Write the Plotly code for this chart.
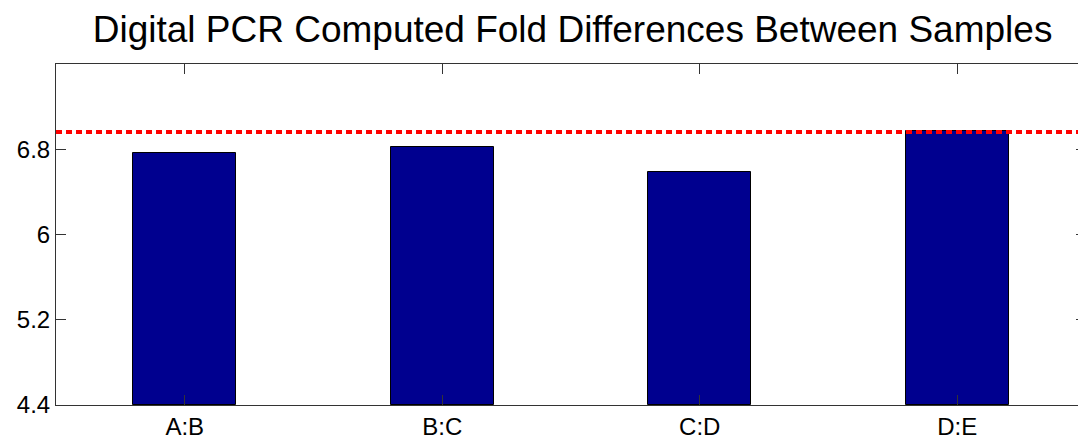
import plotly.graph_objects as go

categories = ["A:B", "B:C", "C:D", "D:E"]
fold_values = [6.762, 6.818, 6.584, 6.972]
threshold = 6.962
y_ticks = [4.4, 5.2, 6.0, 6.8]
y_tick_labels = ["4.4", "5.2", "6", "6.8"]

x_pos = list(range(1, len(categories) + 1))

fig = go.Figure()
fig.add_trace(go.Bar(
    x=x_pos, y=[v - 4.4 for v in fold_values], base=4.4,
    width=0.4,
    marker=dict(color="#00008F", line=dict(color="#000000", width=1)),
    showlegend=False,
))

fig.add_shape(type="line", xref="paper", x0=0, x1=1, yref="y",
              y0=threshold, y1=threshold, layer="above",
              line=dict(color="#FF0000", width=4, dash="6px,4px"))

font = "Liberation Sans, Arial, Helvetica, sans-serif"
# page body has an 8px margin; figure sized/margined to compensate
fig.update_layout(
    width=1078, height=433,
    margin=dict(l=48, r=0, t=56, b=36, autoexpand=False),
    paper_bgcolor="white", plot_bgcolor="white",
    title=dict(text="Digital PCR Computed Fold Differences Between Samples",
               x=0.5237, xanchor="center", y=1 - 21 / 433, yref="container",
               yanchor="middle",
               font=dict(family=font, size=37, color="black")),
    font=dict(family=font, color="black"),
    bargap=0,
)
fig.update_xaxes(range=[0.5, 4.5], tickvals=x_pos, ticktext=categories,
                 ticks="inside", ticklen=10, tickwidth=1, tickcolor="#333",
                 showline=True, linecolor="#333", linewidth=1, mirror="ticks",
                 showgrid=False, zeroline=False, automargin=False,
                 tickfont=dict(family=font, size=24, color="black"))
fig.update_yaxes(range=[4.4, 7.6], tickvals=y_ticks, ticktext=y_tick_labels,
                 ticks="inside", ticklen=10, tickwidth=1, tickcolor="#333",
                 showline=True, linecolor="#333", linewidth=1, mirror="ticks",
                 showgrid=False, zeroline=False, automargin=False,
                 tickfont=dict(family=font, size=24, color="black"))

fig.write_html("out.html")
